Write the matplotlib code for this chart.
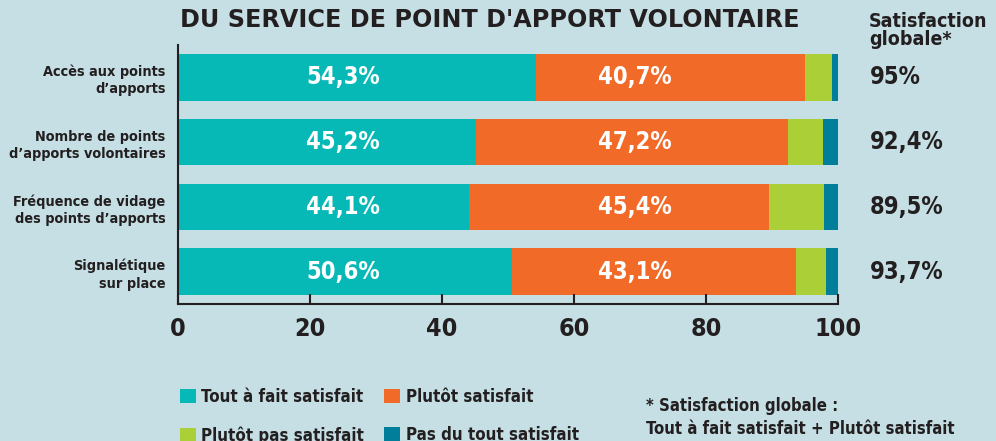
import matplotlib.pyplot as plt
import numpy as np

categories = ["Accès aux points\nd’apports",
              "Nombre de points\nd’apports volontaires",
              "Fréquence de vidage\ndes points d’apports",
              "Signalétique\nsur place"]
tout_a_fait = [54.3, 45.2, 44.1, 50.6]
plutot = [40.7, 47.2, 45.4, 43.1]
plutot_pas = [4.1, 5.3, 8.4, 4.5]
pas_du_tout = [0.9, 2.3, 2.1, 1.8]
globale = ["95%", "92,4%", "89,5%", "93,7%"]
series_names = ["Tout à fait satisfait", "Plutôt satisfait",
                "Plutôt pas satisfait", "Pas du tout satisfait"]
colors = ["#06b9b6", "#f26a28", "#abcf37", "#007e9a"]

bg = "#c5dfe4"
dark = "#231f20"
cond = dict(family="DejaVu Sans", fontstretch="condensed", fontweight="bold")

fig = plt.figure(figsize=(9.96, 4.41), dpi=100, facecolor=bg)
ax = fig.add_axes([178/996, 137/441, 660/996, 259/441])
ax.set_facecolor(bg)

y = np.arange(len(categories))
left = np.zeros(len(categories))
bars = []
for vals, c, name in zip([tout_a_fait, plutot, plutot_pas, pas_du_tout], colors, series_names):
    b = ax.barh(y, vals, left=left, height=0.72, color=c, label=name)
    bars.append(b)
    left += np.array(vals)

# percent labels inside the two main segments, global score on the right
for i in range(len(categories)):
    ax.text(25, y[i], f"{tout_a_fait[i]:.1f}%".replace(".", ","), color="white",
            fontsize=17, ha="center", va="center", **cond)
    ax.text(69.2, y[i], f"{plutot[i]:.1f}%".replace(".", ","), color="white",
            fontsize=17, ha="center", va="center", **cond)
    ax.text(104.8, y[i], globale[i], color=dark, fontsize=17, ha="left",
            va="center", clip_on=False, **cond)

ax.set_xlim(0, 100)
ax.set_ylim(3.5, -0.5)
ax.set_xticks([0, 20, 40, 60, 80, 100])
ax.set_yticks(y)
ax.set_yticklabels(categories, color=dark, fontsize=10.4, ha="right",
                   linespacing=1.3, **cond)
for lab in ax.get_xticklabels():
    lab.set_fontsize(18)
    lab.set_fontweight("bold")
    lab.set_fontstretch("condensed")
    lab.set_color(dark)
ax.tick_params(axis="x", direction="in", length=7, width=1.5, color=dark, pad=9)
ax.tick_params(axis="y", length=0, pad=9)
for s in ["top", "right"]:
    ax.spines[s].set_visible(False)
for s in ["left", "bottom"]:
    ax.spines[s].set_linewidth(1.5)
    ax.spines[s].set_color(dark)

fig.text(490/996, 1 - 20/441, "DU SERVICE DE POINT D'APPORT VOLONTAIRE",
         ha="center", va="center", fontsize=17.2, fontweight="bold", color=dark)
fig.text(869/996, 1 - 12/441, "Satisfaction\nglobale*", ha="left", va="top",
         fontsize=14, color=dark, linespacing=0.95, **cond)

order = [0, 2, 1, 3]
fig.legend([bars[k] for k in order], [series_names[k] for k in order],
           ncol=2, loc="upper left", bbox_to_anchor=(180/996, 1 - 388/441),
           frameon=False, handlelength=0.95, handleheight=0.95,
           handletextpad=0.3, columnspacing=1.2, labelspacing=1.2, borderpad=0,
           borderaxespad=0, labelcolor=dark,
           prop=dict(weight="bold", stretch="condensed", size=12.2))

fig.text(646/996, 1 - 397/441, "* Satisfaction globale :\nTout à fait satisfait + Plutôt satisfait",
         ha="left", va="top", fontsize=12, linespacing=1.38, color=dark, **cond)

fig.savefig("out.png", dpi=100, facecolor=bg)
